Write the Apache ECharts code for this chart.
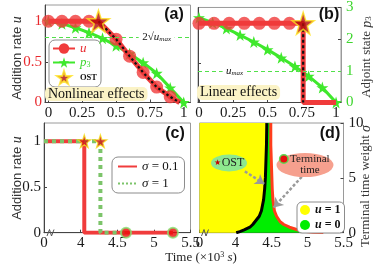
<!DOCTYPE html>
<html><head><meta charset="utf-8">
<script src="https://cdn.jsdelivr.net/npm/echarts@6/dist/echarts.min.js"></script>
<style>html,body{margin:0;padding:0;background:#fff}#c{width:373px;height:267px}</style>
</head><body><div id="c"></div>
<script>
// ================= DATA =================
// (a) Nonlinear effects (normalised time on x)
const aULineX = [0, 0.37, 0.5, 0.6, 0.7, 0.8, 0.9, 0.97];
const aULineY = [1, 1, 0.78, 0.57, 0.37, 0.19, 0.07, 0];
const aUDotX  = [0, 0.1, 0.2, 0.3, 0.5, 0.6, 0.7, 0.8, 0.9];
const aUDotY  = [1, 1, 1, 1, 0.78, 0.57, 0.37, 0.19, 0.07];
const aP3X    = [0, 0.1, 0.2, 0.3, 0.4, 0.5, 0.6, 0.7, 0.8, 0.9, 1];
const aP3Y    = [1.0, 0.97, 0.92, 0.86, 0.79, 0.70, 0.60, 0.49, 0.36, 0.18, 0];
const aOST    = [0.37, 1];
const aLevel  = 0.8;          // 2*sqrt(u_max)
// (b) Linear effects
const bULineX = [0, 0.76, 0.76, 1];
const bULineY = [1, 1, 0, 0];
const bUDotX  = [0, 0.11, 0.22, 0.33, 0.44, 0.55, 0.66];
const bUDotY  = [1, 1, 1, 1, 1, 1, 1];
const bP3X    = [0, 0.1, 0.2, 0.3, 0.4, 0.5, 0.6, 0.7, 0.8, 0.9, 1];
const bP3Y    = [2.68, 2.52, 2.34, 2.13, 1.91, 1.67, 1.41, 1.14, 0.83, 0.47, 0];
const bOST    = [0.76, 1];
const bLevel  = 1;            // u_max on p3 axis
// (c) time (x10^3 s); 3.5 marks the broken-axis origin "0"
const cRedX   = [3.5, 4.05, 4.05, 5.26];
const cRedY   = [1, 1, 0, 0];
const cGrnX   = [3.5, 4.27, 4.27, 4.62];
const cGrnY   = [1, 1, 0, 0];
const cStarX  = [4.05, 4.27];
const cStarY  = [1, 1];
const cEndX   = [4.62, 5.26];
const cEndY   = [0, 0];
// (d) OST and terminal time vs sigma
const dSigma  = [0, 0.1, 0.25, 0.5, 0.75, 1, 1.5, 2, 3, 4, 5, 6, 8, 10];
const dOST    = [4.01, 4.06, 4.12, 4.2, 4.24, 4.27, 4.33, 4.36, 4.39, 4.405, 4.415, 4.42, 4.43, 4.435];
const dSigmaT = [0.01, 0.05, 0.1, 0.25, 0.5, 0.75, 1, 1.5, 2, 3, 4, 6, 8, 10];
const dTerm   = [5.22, 5.08, 4.98, 4.87, 4.75, 4.67, 4.62, 4.57, 4.54, 4.52, 4.51, 4.50, 4.49, 4.49];
// tick labels
const xTicksTop = [0, 0.25, 0.5, 0.75, 1];
const xLabsTop  = ['0', '0.25', '0.5', '0.75', '1'];
const xTicksBot = [3.5, 4, 4.5, 5, 5.5];
const xLabsBot  = ['0', '4', '4.5', '5', '5.5'];
const yTicksU   = [0, 0.5, 1];
const yLabsU    = ['0', '0.5', '1'];
const yTicksP   = [0, 1, 2, 3];
const yLabsP    = ['0', '1', '2', '3'];
const yTicksS   = [0, 5, 10];
const yLabsS    = ['0', '5', '10'];

// ================= STYLE =================
const SERIF = 'Liberation Serif', SANS = 'Liberation Sans';
const RED = '#f03b3b', GREEN = '#3fe82c', AX = '#444', FRAME = '#9a9a9a';
const STAR = 'path://M50 0 L61.8 35.1 L98.9 35.1 L69 57.3 L79.4 91.9 L50 71 L20.6 91.9 L31 57.3 L1.1 35.1 L38.2 35.1 Z';
const zip = (xs, ys) => xs.map((x, i) => [x, ys[i]]);
const fmtOf = (ticks, labs) => v => { const i = ticks.findIndex(t => Math.abs(t - v) < 1e-6); return i < 0 ? '' : labs[i]; };

function xAxisDef(grid, min, max, ticks, labs) {
  return { type: 'value', gridIndex: grid, min, max,
    axisLine: { show: true, onZero: false, lineStyle: { color: AX } },
    axisTick: { show: true, inside: true, length: 3, customValues: ticks, lineStyle: { color: AX } },
    axisLabel: { show: true, customValues: ticks, formatter: fmtOf(ticks, labs), fontFamily: SERIF, fontSize: 15, color: '#1a1a1a', margin: 3, showMinLabel: true, showMaxLabel: true },
    splitLine: { show: false } };
}
function yAxisDef(grid, pos, min, max, ticks, labs, color, showLab) {
  return { type: 'value', gridIndex: grid, position: pos, min, max,
    axisLine: { show: true, onZero: false, lineStyle: { color: pos === 'left' ? AX : FRAME } },
    axisTick: { show: true, inside: true, length: 3, customValues: ticks, lineStyle: { color: AX } },
    axisLabel: { show: showLab, customValues: ticks, formatter: fmtOf(ticks, labs), fontFamily: SERIF, fontSize: 15, color, margin: pos === 'left' ? 3 : 5, showMinLabel: true, showMaxLabel: true },
    splitLine: { show: false } };
}

const chart = echarts.init(document.getElementById('c'), null, { renderer: 'canvas', width: 373, height: 267 });

const yA = yAxisDef(0, 'left', 0, 1.2, yTicksU, yLabsU, '#e8282d', true);
const yBL = yAxisDef(1, 'left', 0, 1.2, yTicksU, yLabsU, '#000', false);
const yBR = yAxisDef(1, 'right', 0, 3.001, yTicksP, yLabsP, '#3ed62e', true);
const yC = yAxisDef(2, 'left', 0, 1.2, yTicksU, yLabsU, '#1a1a1a', true);
const yD = yAxisDef(3, 'right', 0, 10.01, yTicksS, yLabsS, '#1a1a1a', true);

const ostIdxA = aULineX.indexOf(aOST[0]);
const ellipse = 'path://M0 50 A50 50 0 1 0 100 50 A50 50 0 1 0 0 50 Z';
const titleRich = { i: { fontFamily: SERIF, fontStyle: 'italic', fontSize: 14, fill: '#333' }, s: { fontFamily: SERIF, fontSize: 9, fill: '#333', padding: [4, 0, 0, 0] } };
const vTitle = (x, y, text, family) => ({ type: 'text', x, y, rotation: Math.PI / 2, z: 20,
  style: { text, fontFamily: family, fontSize: 13, fill: '#333', align: 'center', verticalAlign: 'middle', rich: titleRich } });

const option = {
  animation: false,
  backgroundColor: '#fff',
  grid: [
    { left: 45, top: 5, width: 145.5, height: 97.5, show: true, borderColor: FRAME, borderWidth: 1 },
    { left: 198, top: 5, width: 143, height: 97.5, show: true, borderColor: FRAME, borderWidth: 1 },
    { left: 44, top: 123, width: 146.5, height: 109.7, show: true, borderColor: FRAME, borderWidth: 1 },
    { left: 199.5, top: 123, width: 144, height: 109.7, show: true, borderColor: FRAME, borderWidth: 1 }
  ],
  xAxis: [
    xAxisDef(0, -0.025, 1.05, xTicksTop, xLabsTop),
    xAxisDef(1, -0.007, 1.036, xTicksTop, xLabsTop),
    xAxisDef(2, 3.5, 5.5, xTicksBot, xLabsBot),
    xAxisDef(3, 3.5, 5.5, xTicksBot, xLabsBot)
  ],
  yAxis: [yA, yBL, yBR, yC, yD],
  legend: [
    { data: ['u', 'p3', 'OST'], left: 49, top: 40, orient: 'vertical', itemWidth: 22, itemHeight: 13, itemGap: 1,
      padding: [2, 4, 2, 3], borderColor: '#8c8c8c', borderWidth: 1, borderRadius: 6, selectedMode: false,
      formatter: n => n === 'u' ? '{ru|u}' : n === 'p3' ? '{gp|p}{gs|3}' : '{o|OST}',
      textStyle: { rich: {
        ru: { fontFamily: SERIF, fontStyle: 'italic', fontSize: 13, color: '#e8282d' },
        gp: { fontFamily: SERIF, fontStyle: 'italic', fontSize: 13, color: '#3ed62e' },
        gs: { fontFamily: SERIF, fontSize: 8, color: '#3ed62e', padding: [5, 0, 0, 0] },
        o: { fontFamily: SERIF, fontSize: 8.5, color: '#111', fontWeight: 'bold' } } } },
    { data: ['σ = 0.1', 'σ = 1'], left: 112, top: 157, orient: 'vertical', itemWidth: 19, itemHeight: 12, itemGap: 4,
      padding: [3, 6, 3, 5], borderColor: '#8c8c8c', borderWidth: 1, borderRadius: 6, selectedMode: false,
      itemStyle: { opacity: 0 },
      formatter: n => '{s|σ}' + n.slice(1),
      textStyle: { fontFamily: SERIF, fontSize: 13, color: '#111', rich: { s: { fontFamily: SERIF, fontStyle: 'italic', fontSize: 13, color: '#111' } } } },
    { data: ['u = 1', 'u = 0'], left: 297, top: 202, orient: 'vertical', icon: 'circle', itemWidth: 10, itemHeight: 10, itemGap: 3,
      padding: [2, 4, 2, 3], borderColor: '#8c8c8c', borderWidth: 1, borderRadius: 5, selectedMode: false, backgroundColor: '#fff',
      formatter: n => '{i|u}' + n.slice(1),
      textStyle: { fontFamily: SERIF, fontSize: 12, color: '#111', fontWeight: 'bold', rich: { i: { fontFamily: SERIF, fontStyle: 'italic', fontWeight: 'bold', fontSize: 12, color: '#111' } } } }
  ],
  series: [
    // ---------- (a) ----------
    { type: 'line', name: 'p3', xAxisIndex: 0, yAxisIndex: 0, data: zip(aP3X, aP3Y), symbol: STAR, symbolSize: 12,
      itemStyle: { color: GREEN }, lineStyle: { color: GREEN, width: 3 }, z: 2, clip: false,
      markLine: { silent: true, symbol: 'none', lineStyle: { color: '#52e04a', type: [4, 3], width: 1.2 }, label: { show: false }, data: [{ yAxis: aLevel }] },
      markPoint: { silent: true, data: [{ coord: [0.8, aLevel], symbol: 'rect', symbolSize: [36, 11], itemStyle: { color: '#fff' },
        label: { show: true, position: 'inside', formatter: '{n|2√}{u|u}{m|max}', rich: {
          n: { fontFamily: SERIF, fontSize: 11, color: '#111' }, u: { fontFamily: SERIF, fontStyle: 'italic', fontSize: 11, color: '#111' },
          m: { fontFamily: SERIF, fontStyle: 'italic', fontSize: 7, color: '#111', padding: [4, 0, 0, 0] } } } }] } },
    { type: 'line', name: 'u', xAxisIndex: 0, yAxisIndex: 0, data: zip(aULineX, aULineY), symbol: 'circle', showSymbol: false, symbolSize: 13,
      itemStyle: { color: RED }, lineStyle: { color: RED, width: 5 }, z: 3, clip: false },
    { type: 'scatter', name: 'u-dots', xAxisIndex: 0, yAxisIndex: 0, data: zip(aUDotX, aUDotY), symbol: 'circle', symbolSize: 13,
      itemStyle: { color: RED }, z: 3, clip: false },
    { type: 'line', name: 'u-dash', xAxisIndex: 0, yAxisIndex: 0, data: zip(aULineX.slice(ostIdxA), aULineY.slice(ostIdxA)), symbol: 'none',
      lineStyle: { color: '#111', width: 2.2, type: [2.5, 2.5] }, z: 4 },
    { type: 'scatter', name: 'OST', xAxisIndex: 0, yAxisIndex: 0, data: [aOST], symbol: STAR, symbolSize: 22,
      itemStyle: { color: '#b30b0b', borderColor: '#ffe21f', borderWidth: 1.5 }, z: 5, clip: false },
    // ---------- (b) ----------
    { type: 'line', name: 'p3', xAxisIndex: 1, yAxisIndex: 2, data: zip(bP3X, bP3Y), symbol: STAR, symbolSize: 12,
      itemStyle: { color: GREEN }, lineStyle: { color: GREEN, width: 3 }, z: 2, clip: false,
      markLine: { silent: true, symbol: 'none', lineStyle: { color: '#52e04a', type: [4, 3], width: 1.2 }, label: { show: false }, data: [{ yAxis: bLevel }] },
      markPoint: { silent: true, data: [{ coord: [0.26, bLevel], symbol: 'rect', symbolSize: [24, 10], itemStyle: { color: '#fff' },
        label: { show: true, position: 'inside', formatter: '{u|u}{m|max}', rich: {
          u: { fontFamily: SERIF, fontStyle: 'italic', fontSize: 11, color: '#111' },
          m: { fontFamily: SERIF, fontStyle: 'italic', fontSize: 7, color: '#111', padding: [4, 0, 0, 0] } } } }] } },
    { type: 'line', name: 'u', xAxisIndex: 1, yAxisIndex: 1, data: zip(bULineX, bULineY), symbol: 'circle', showSymbol: false,
      itemStyle: { color: RED }, lineStyle: { color: RED, width: 5 }, z: 3, clip: false },
    { type: 'scatter', name: 'u-dots', xAxisIndex: 1, yAxisIndex: 1, data: zip(bUDotX, bUDotY), symbol: 'circle', symbolSize: 13,
      itemStyle: { color: RED }, z: 3, clip: false },
    { type: 'line', name: 'u-dash', xAxisIndex: 1, yAxisIndex: 1, data: [bOST, [bOST[0], 0]], symbol: 'none',
      lineStyle: { color: '#111', width: 2.2, type: [3, 2.5] }, z: 4 },
    { type: 'scatter', name: 'OST', xAxisIndex: 1, yAxisIndex: 1, data: [bOST], symbol: STAR, symbolSize: 22,
      itemStyle: { color: '#b30b0b', borderColor: '#ffe21f', borderWidth: 1.5 }, z: 5, clip: false },
    // ---------- (c) ----------
    { type: 'line', name: 'σ = 0.1', xAxisIndex: 2, yAxisIndex: 3, data: zip(cRedX, cRedY), symbol: 'none',
      itemStyle: { color: '#f03c3c' }, lineStyle: { color: '#f03c3c', width: 4 }, z: 2 },
    { type: 'line', name: 'σ = 1', xAxisIndex: 2, yAxisIndex: 3, data: zip(cGrnX, cGrnY), symbol: 'none',
      itemStyle: { color: '#7cc46a' }, lineStyle: { color: '#7cc46a', width: 4, type: 'dotted' }, z: 3 },
    { type: 'scatter', name: 'c-stars', xAxisIndex: 2, yAxisIndex: 3, data: zip(cStarX, cStarY), symbol: STAR, symbolSize: 13,
      itemStyle: { color: '#d41515', borderColor: '#f5e21a', borderWidth: 1.2 }, z: 5, clip: false },
    { type: 'scatter', name: 'c-ends', xAxisIndex: 2, yAxisIndex: 3, data: zip(cEndX, cEndY), symbol: 'circle', symbolSize: 10,
      itemStyle: { color: '#ee0a0a', borderColor: '#86e070', borderWidth: 2 }, z: 5, clip: false },
    // ---------- (d) ----------
    { type: 'custom', name: 'u = 1', xAxisIndex: 3, yAxisIndex: 4, data: [[xTicksBot[0], 0]], itemStyle: { color: '#ffff00' }, z: 1, silent: true,
      renderItem: (p, api) => {
        const pts = [[xTicksBot[0], dSigma[0]]].concat(zip(dOST, dSigma)).concat([[xTicksBot[0], dSigma[dSigma.length - 1]]]);
        return { type: 'polygon', shape: { points: pts.map(q => api.coord(q)) }, style: { fill: '#ffff00' } };
      } },
    { type: 'custom', name: 'u = 0', xAxisIndex: 3, yAxisIndex: 4, data: [[dOST[0], 0]], itemStyle: { color: '#00ee00' }, z: 1, silent: true,
      renderItem: (p, api) => {
        const pts = zip(dOST, dSigma).concat(zip(dTerm, dSigmaT).reverse());
        return { type: 'polygon', shape: { points: pts.map(q => api.coord(q)) }, style: { fill: '#00ee00' } };
      } },
    { type: 'line', name: 'd-ost', xAxisIndex: 3, yAxisIndex: 4, data: zip(dOST, dSigma), symbol: 'none',
      lineStyle: { color: '#000', width: 3 }, z: 3,
      markLine: { silent: true, symbol: ['none', 'arrow'], symbolSize: 9, lineStyle: { color: '#9a9a9a', type: [3, 2], width: 2.5 }, label: { show: false },
        data: [[{ coord: [4.13, 5.6] }, { coord: [4.4, 4.45] }], [{ coord: [4.92, 5.1] }, { coord: [4.53, 2.3] }]] },
      markPoint: { silent: true, data: [
        { coord: [3.91, 6.35], symbol: ellipse, symbolSize: [36, 17], symbolKeepAspect: false, itemStyle: { color: '#8ee88e' },
          label: { show: true, position: 'inside', formatter: '{s|★}{t|OST}', rich: {
            s: { fontSize: 8, color: '#c80000', padding: [0, 1, 0, 0] }, t: { fontFamily: SERIF, fontSize: 12, color: '#222' } } } },
        { coord: [4.965, 6.17], symbol: ellipse, symbolSize: [57, 24], symbolKeepAspect: false, itemStyle: { color: '#f6a08e' },
          label: { show: true, position: 'inside', formatter: '{d|}{t| Terminal}\n{p|}{t|time}', rich: {
            d: { width: 7, height: 7, borderRadius: 4, backgroundColor: '#e81010', borderColor: '#5fd850', borderWidth: 1.5 },
            p: { width: 10 }, t: { fontFamily: SERIF, fontSize: 11, lineHeight: 11, color: '#222' } } } }
      ] } },
    { type: 'line', name: 'd-term', xAxisIndex: 3, yAxisIndex: 4, data: zip(dTerm, dSigmaT), symbol: 'none',
      lineStyle: { color: '#ff3d1c', width: 3 }, z: 3 }
  ],
  graphic: [
    vTitle(17, 58, 'Addition rate {i|u}', SANS),
    vTitle(17, 178, 'Addition rate {i|u}', SANS),
    vTitle(367, 57, 'Adjoint state {i|p}{s|3}', SERIF),
    vTitle(366, 186, 'Terminal time weight {i|σ}', SERIF),
    { type: 'text', x: 174, y: 15, z: 20, style: { text: '(a)', fontFamily: SANS, fontWeight: 'bold', fontSize: 16, fill: '#111', align: 'center', verticalAlign: 'middle' } },
    { type: 'text', x: 329, y: 15, z: 20, style: { text: '(b)', fontFamily: SANS, fontWeight: 'bold', fontSize: 16, fill: '#111', align: 'center', verticalAlign: 'middle' } },
    { type: 'text', x: 175, y: 134, z: 20, style: { text: '(c)', fontFamily: SANS, fontWeight: 'bold', fontSize: 16, fill: '#111', align: 'center', verticalAlign: 'middle' } },
    { type: 'text', x: 330, y: 134, z: 20, style: { text: '(d)', fontFamily: SANS, fontWeight: 'bold', fontSize: 16, fill: '#111', align: 'center', verticalAlign: 'middle' } },
    { type: 'text', x: 45, y: 87, z: 20, style: { text: 'Nonlinear effects', fontFamily: SERIF, fontSize: 14, lineHeight: 13, fill: '#111', backgroundColor: '#fbf3c6', borderRadius: 5, padding: [1, 3, 0, 3] } },
    { type: 'text', x: 197, y: 85, z: 20, style: { text: 'Linear effects', fontFamily: SERIF, fontSize: 14, lineHeight: 13, fill: '#111', backgroundColor: '#fbf3c6', borderRadius: 5, padding: [1, 3, 1, 3] } },
    { type: 'polyline', z: 20, shape: { points: [[47, 236], [49.5, 229.5], [51.5, 236], [54, 229.5]] }, style: { stroke: '#555', lineWidth: 1, fill: null } },
    { type: 'polyline', z: 20, shape: { points: [[201.5, 236], [204, 229.5], [206, 236], [208.5, 229.5]] }, style: { stroke: '#555', lineWidth: 1, fill: null } },
    { type: 'text', x: 201, y: 258, z: 20, style: { text: 'Time (×10{sup|3} {i|s})', fontFamily: SERIF, fontSize: 13, fill: '#222', align: 'center', verticalAlign: 'middle',
      rich: { sup: { fontFamily: SERIF, fontSize: 8, fill: '#222', padding: [0, 0, 6, 0] }, i: { fontFamily: SERIF, fontStyle: 'italic', fontSize: 13, fill: '#222' } } } }
  ]
};
chart.setOption(option);
</script>
</body></html>
